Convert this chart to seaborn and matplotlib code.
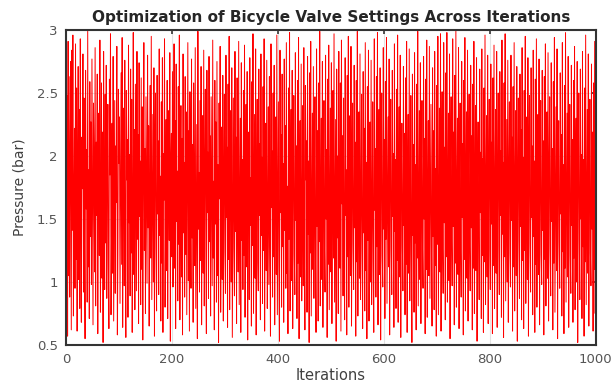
import numpy as np
import pandas as pd
import matplotlib
matplotlib.use("Agg")
import matplotlib.pyplot as plt
import seaborn as sns

# pressure readings (bar) in blocks of 100 iterations
pressure_001_100 = [1.32, 2.48, 0.57, 2.91, 1.05, 2.63, 0.88, 1.97, 2.75, 0.62, 2.84, 1.41, 2.96, 0.73, 1.66, 2.22, 0.95, 2.89, 1.18, 2.54,
                    0.61, 1.83, 2.71, 1.02, 2.37, 0.79, 2.93, 1.49, 0.68, 2.15, 1.74, 2.81, 0.92, 2.46, 1.27, 0.55, 2.68, 1.58, 2.05, 0.84,
                    2.99, 1.12, 1.89, 0.71, 2.59, 1.36, 2.27, 0.98, 2.77, 1.61, 0.66, 2.42, 1.93, 1.08, 2.86, 0.81, 2.11, 1.53, 2.65, 0.59,
                    1.77, 2.34, 1.21, 2.92, 0.76, 1.45, 2.58, 1.03, 2.19, 0.52, 2.83, 1.69, 0.94, 2.49, 1.31, 2.72, 0.87, 1.99, 2.41, 1.16,
                    0.63, 2.61, 1.85, 2.97, 0.74, 1.38, 2.26, 1.07, 2.79, 0.69, 1.56, 2.44, 0.91, 2.08, 1.63, 2.87, 0.58, 1.24, 2.53, 1.94]
pressure_101_200 = [2.31, 0.83, 1.72, 2.66, 1.14, 2.94, 0.64, 1.91, 2.38, 0.97, 2.76, 1.29, 0.56, 2.52, 1.81, 2.13, 0.72, 2.88, 1.47, 2.01,
                    0.89, 2.69, 1.23, 2.45, 0.60, 1.59, 2.98, 1.06, 2.21, 0.78, 2.57, 1.67, 0.93, 2.83, 1.34, 2.17, 0.67, 2.74, 1.52, 1.96,
                    0.82, 2.62, 1.10, 2.39, 0.54, 1.86, 2.90, 1.25, 2.06, 0.75, 2.47, 1.71, 0.99, 2.80, 1.43, 2.24, 0.65, 1.79, 2.56, 1.19,
                    2.95, 0.86, 1.62, 2.33, 1.00, 2.70, 0.57, 1.92, 2.50, 1.28, 0.77, 2.64, 1.54, 2.12, 0.90, 2.85, 1.37, 1.84, 0.69, 2.43,
                    1.15, 2.78, 0.60, 2.02, 1.65, 2.93, 0.80, 1.44, 2.29, 1.09, 2.60, 0.71, 1.76, 2.36, 1.33, 2.82, 0.53, 1.98, 2.18, 1.20]
pressure_201_300 = [2.67, 0.96, 1.57, 2.89, 1.11, 2.28, 0.63, 2.73, 1.48, 1.88, 0.85, 2.55, 1.30, 2.96, 0.70, 1.68, 2.40, 1.04, 2.14, 0.58,
                    2.81, 1.39, 1.95, 0.88, 2.63, 1.22, 2.35, 0.74, 1.82, 2.90, 1.01, 2.20, 0.61, 2.51, 1.60, 0.95, 2.77, 1.35, 2.09, 0.68,
                    2.58, 1.73, 1.13, 2.86, 0.79, 1.50, 2.25, 0.55, 2.99, 1.42, 1.87, 0.92, 2.44, 1.17, 2.71, 0.66, 1.64, 2.32, 1.07, 2.84,
                    0.81, 1.90, 2.53, 1.26, 0.59, 2.68, 1.55, 2.03, 0.87, 2.79, 1.32, 2.16, 0.73, 2.47, 1.70, 0.97, 2.92, 1.19, 1.80, 0.62,
                    2.60, 1.46, 2.27, 0.84, 2.75, 1.05, 1.93, 0.52, 2.42, 1.66, 2.87, 0.76, 1.36, 2.23, 1.02, 2.64, 0.69, 1.78, 2.49, 1.24]
pressure_301_400 = [0.91, 2.80, 1.51, 2.07, 0.64, 2.57, 1.18, 2.95, 0.78, 1.85, 2.36, 1.00, 2.70, 0.56, 1.61, 2.46, 1.27, 0.89, 2.83, 1.40,
                    2.15, 0.67, 2.62, 1.75, 1.08, 2.91, 0.82, 1.58, 2.30, 0.60, 2.74, 1.33, 1.97, 0.94, 2.52, 1.21, 2.88, 0.72, 1.69, 2.41,
                    1.12, 2.67, 0.54, 1.92, 2.19, 0.86, 2.78, 1.45, 1.83, 0.65, 2.59, 1.29, 2.97, 0.75, 1.63, 2.33, 1.03, 2.85, 0.58, 1.79,
                    2.45, 1.16, 0.93, 2.69, 1.53, 2.10, 0.70, 2.81, 1.37, 1.99, 0.83, 2.55, 1.25, 2.93, 0.61, 1.72, 2.26, 1.09, 2.76, 0.79,
                    1.47, 2.39, 0.98, 2.63, 1.31, 0.57, 2.89, 1.59, 2.04, 0.88, 2.50, 1.20, 2.72, 0.66, 1.86, 2.31, 1.06, 2.96, 0.74, 1.64]
pressure_401_500 = [2.43, 1.13, 0.53, 2.84, 1.55, 2.17, 0.80, 2.65, 1.28, 1.94, 0.68, 2.77, 1.41, 2.24, 0.95, 2.90, 1.07, 1.76, 0.59, 2.54,
                    1.34, 2.98, 0.77, 1.67, 2.37, 1.01, 2.68, 0.63, 1.88, 2.48, 1.22, 0.90, 2.82, 1.49, 2.08, 0.71, 2.60, 1.15, 2.94, 0.55,
                    1.73, 2.28, 1.04, 2.73, 0.85, 1.52, 2.40, 0.97, 2.86, 1.30, 0.62, 2.56, 1.81, 2.12, 0.76, 2.79, 1.38, 1.96, 0.52, 2.66,
                    1.23, 2.91, 0.73, 1.60, 2.34, 1.10, 2.71, 0.87, 1.84, 2.47, 1.17, 0.60, 2.85, 1.44, 2.20, 0.69, 2.58, 1.32, 2.99, 0.81,
                    1.70, 2.30, 1.02, 2.75, 0.64, 1.91, 2.44, 1.26, 0.92, 2.80, 1.50, 2.05, 0.56, 2.61, 1.14, 2.88, 0.78, 1.65, 2.38, 1.08]
pressure_501_600 = [2.74, 0.67, 1.87, 2.52, 1.19, 2.97, 0.84, 1.56, 2.29, 0.53, 2.69, 1.35, 2.00, 0.75, 2.83, 1.46, 1.11, 2.58, 0.61, 2.92,
                    1.62, 2.16, 0.89, 2.46, 1.27, 0.70, 2.78, 1.53, 1.89, 0.58, 2.64, 1.20, 2.95, 0.80, 1.74, 2.32, 1.05, 2.87, 0.65, 1.68,
                    2.42, 1.30, 0.94, 2.72, 1.43, 2.11, 0.57, 2.60, 1.16, 2.99, 0.73, 1.80, 2.35, 1.03, 2.81, 0.86, 1.58, 2.49, 1.24, 0.63,
                    2.67, 1.39, 2.22, 0.77, 2.90, 1.09, 1.95, 0.55, 2.55, 1.33, 2.84, 0.69, 1.71, 2.27, 1.00, 2.76, 0.82, 1.48, 2.43, 1.18,
                    0.60, 2.93, 1.57, 2.06, 0.88, 2.63, 1.28, 2.98, 0.66, 1.77, 2.37, 1.06, 2.70, 0.54, 1.92, 2.50, 1.21, 0.96, 2.86, 1.42]
pressure_601_700 = [2.13, 0.71, 2.59, 1.34, 2.94, 0.83, 1.63, 2.31, 1.12, 2.77, 0.58, 1.85, 2.45, 1.25, 0.90, 2.68, 1.52, 2.02, 0.64, 2.89,
                    1.40, 1.97, 0.79, 2.53, 1.17, 2.96, 0.68, 1.69, 2.39, 1.04, 2.80, 0.56, 1.82, 2.26, 1.29, 0.93, 2.71, 1.45, 2.18, 0.74,
                    2.62, 1.14, 2.91, 0.60, 1.75, 2.33, 1.07, 2.85, 0.85, 1.54, 2.48, 1.22, 0.52, 2.65, 1.37, 2.09, 0.76, 2.82, 1.31, 1.93,
                    0.62, 2.57, 1.19, 2.99, 0.81, 1.66, 2.36, 1.02, 2.74, 0.67, 1.88, 2.44, 1.27, 0.95, 2.79, 1.50, 2.14, 0.59, 2.61, 1.10,
                    2.92, 0.72, 1.72, 2.28, 1.05, 2.87, 0.87, 1.59, 2.41, 1.23, 0.65, 2.70, 1.36, 2.20, 0.78, 2.83, 1.13, 1.90, 0.57, 2.56]
pressure_701_800 = [1.30, 2.95, 0.74, 1.64, 2.38, 1.08, 2.97, 0.61, 1.83, 2.51, 1.26, 0.91, 2.90, 1.47, 2.07, 0.70, 2.66, 1.20, 2.98, 0.84,
                    1.71, 2.34, 1.01, 2.81, 0.55, 1.94, 2.47, 1.32, 0.97, 2.93, 1.44, 2.19, 0.66, 2.64, 1.15, 2.99, 0.80, 1.67, 2.30, 1.06,
                    2.86, 0.63, 1.86, 2.42, 1.24, 0.88, 2.75, 1.51, 2.10, 0.58, 2.60, 1.18, 2.94, 0.77, 1.76, 2.35, 1.03, 2.84, 0.69, 1.91,
                    2.49, 1.28, 0.93, 2.72, 1.43, 2.16, 0.62, 2.57, 1.11, 2.91, 0.75, 1.68, 2.40, 1.09, 2.78, 0.53, 1.81, 2.27, 1.35, 0.86,
                    2.69, 1.55, 2.03, 0.71, 2.85, 1.21, 1.98, 0.60, 2.54, 1.16, 2.96, 0.82, 1.73, 2.32, 1.04, 2.80, 0.67, 1.89, 2.45, 1.26]
pressure_801_900 = [0.94, 2.73, 1.46, 2.11, 0.59, 2.62, 1.13, 2.88, 0.79, 1.70, 2.37, 1.07, 2.83, 0.64, 1.84, 2.50, 1.29, 0.90, 2.67, 1.53,
                    2.04, 0.72, 2.92, 1.38, 1.95, 0.56, 2.58, 1.20, 2.97, 0.85, 1.61, 2.29, 1.00, 2.76, 0.68, 1.87, 2.43, 1.23, 0.96, 2.80,
                    1.49, 2.15, 0.61, 2.55, 1.12, 2.90, 0.77, 1.74, 2.36, 1.05, 2.71, 0.53, 1.80, 2.46, 1.33, 0.87, 2.65, 1.44, 2.21, 0.70,
                    2.86, 1.17, 1.99, 0.63, 2.52, 1.25, 2.95, 0.83, 1.66, 2.31, 1.02, 2.78, 0.57, 1.92, 2.48, 1.30, 0.92, 2.70, 1.51, 2.08,
                    0.74, 2.84, 1.36, 1.96, 0.60, 2.61, 1.14, 2.93, 0.80, 1.69, 2.33, 1.06, 2.77, 0.66, 1.85, 2.44, 1.22, 0.98, 2.68, 1.41]
pressure_901_1000 = [2.12, 0.58, 2.63, 1.18, 2.89, 0.81, 1.72, 2.35, 1.03, 2.82, 0.69, 1.90, 2.47, 1.27, 0.89, 2.74, 1.48, 2.06, 0.62, 2.59,
                     1.15, 2.94, 0.76, 1.65, 2.39, 1.09, 2.85, 0.55, 1.83, 2.28, 1.32, 0.95, 2.66, 1.54, 2.17, 0.73, 2.90, 1.24, 1.93, 0.59,
                     2.56, 1.11, 2.98, 0.84, 1.67, 2.34, 1.04, 2.79, 0.64, 1.88, 2.41, 1.21, 0.91, 2.72, 1.45, 2.13, 0.68, 2.60, 1.19, 2.87,
                     0.78, 1.76, 2.30, 1.00, 2.75, 0.52, 1.86, 2.50, 1.34, 0.86, 2.69, 1.50, 2.01, 0.71, 2.83, 1.28, 1.97, 0.57, 2.54, 1.16,
                     2.96, 0.82, 1.63, 2.37, 1.07, 2.81, 0.65, 1.94, 2.45, 1.23, 0.97, 2.73, 1.42, 2.19, 0.61, 2.58, 1.10, 2.91, 0.75, 1.95]

x_ticks = [0, 200, 400, 600, 800, 1000]
y_ticks = [0.5, 1, 1.5, 2, 2.5, 3]
y_tick_labels = ["0.5", "1", "1.5", "2", "2.5", "3"]

pressure = (pressure_001_100 + pressure_101_200 + pressure_201_300 + pressure_301_400 + pressure_401_500
            + pressure_501_600 + pressure_601_700 + pressure_701_800 + pressure_801_900 + pressure_901_1000)
df = pd.DataFrame({"Iteration": np.arange(1, len(pressure) + 1), "Pressure": pressure})

sns.set_style("white")
plt.rcParams['font.family'] = ['DejaVu Sans']

fig = plt.figure(figsize=(6.11, 3.85), dpi=100)
ax = fig.add_axes([0.108, 0.104, 0.867, 0.818])

sns.lineplot(x="Iteration", y="Pressure", data=df, color="#ff0000", linewidth=0.7,
             estimator=None, sort=False, ax=ax)

ax.set_xlim(0, 1000)
ax.set_ylim(0.5, 3)
ax.set_xticks(x_ticks)
ax.set_yticks(y_ticks)
ax.set_yticklabels(y_tick_labels)
ax.grid(True, color="#e3e3e3", linewidth=0.8)
ax.set_axisbelow(True)
ax.tick_params(direction="in", top=True, right=True, length=3, width=1.2,
               colors="#333333", labelcolor="#555555", labelsize=9.5, pad=6)
for s in ax.spines.values():
    s.set_color("#333333")
    s.set_linewidth(1.5)

ax.set_title("Optimization of Bicycle Valve Settings Across Iterations",
             fontsize=11, fontweight="bold", color="#262626", pad=6)
ax.set_xlabel("Iterations", fontsize=10.5, color="#404040", labelpad=1)
ax.set_ylabel("Pressure (bar)", fontsize=10, color="#404040", labelpad=7)

fig.savefig("out.png", dpi=100)
